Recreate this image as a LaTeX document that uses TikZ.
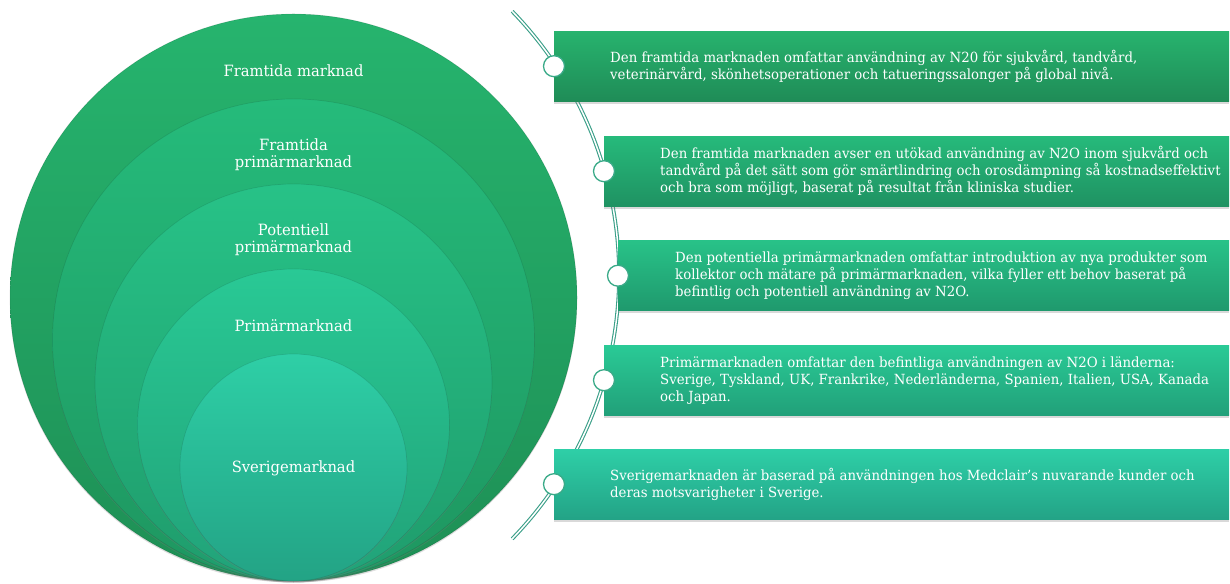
\documentclass[tikz,border=0pt]{standalone}
\usepackage{fontspec}
\setmainfont{DejaVu Serif}
\newfontfamily\boxfont[FakeStretch=0.95]{DejaVu Serif}
\newfontfamily\ringfont[FakeStretch=0.95]{DejaVu Serif}
\usetikzlibrary{shadows}
\definecolor{cAt}{HTML}{26B46E}\definecolor{cAb}{HTML}{1E8F55}
\definecolor{cBt}{HTML}{25BB7B}\definecolor{cBb}{HTML}{1E9660}
\definecolor{cCt}{HTML}{27C287}\definecolor{cCb}{HTML}{1F9C6C}
\definecolor{cDt}{HTML}{29C995}\definecolor{cDb}{HTML}{21A278}
\definecolor{cEt}{HTML}{2ECFA6}\definecolor{cEb}{HTML}{23A385}
\definecolor{bAt}{HTML}{27B36E}\definecolor{bAb}{HTML}{1F8C57}
\definecolor{bBt}{HTML}{26BA7B}\definecolor{bBb}{HTML}{1F9262}
\definecolor{bCt}{HTML}{28C288}\definecolor{bCb}{HTML}{1F996D}
\definecolor{bDt}{HTML}{2ACA96}\definecolor{bDb}{HTML}{21A079}
\definecolor{bEt}{HTML}{2ECFA7}\definecolor{bEb}{HTML}{23A386}
\definecolor{markerc}{HTML}{3AAA88}
\definecolor{arcc}{HTML}{3A9F88}
\begin{document}
\begin{tikzpicture}[x=1pt,y=1pt,
  ring/.style={circle, inner sep=0pt, minimum size=#1, draw=black, draw opacity=0.10, line width=0.7pt,
     drop shadow={shadow xshift=0pt, shadow yshift=-1.5pt, opacity=0.25}},
  ringlabel/.style={text=white, font=\ringfont\fontsize{15.5}{17}\selectfont, align=center, inner sep=0pt},
  infobox/.style={rectangle, inner sep=0pt, anchor=north west, minimum height=70pt, minimum width=#1,
     drop shadow={shadow xshift=0pt, shadow yshift=-2.5pt, opacity=0.3}},
  infotext/.style={anchor=west, text=white, align=left, font=\boxfont\fontsize{14}{17}\selectfont, inner sep=0pt},
  marker/.style={circle, fill=white, draw=markerc, line width=1.3pt, minimum size=21pt, inner sep=0pt},
  arcline/.style={draw=arcc, line width=1.1pt, double=white, double distance=1.5pt}
]
\useasboundingbox (0,0) rectangle (1230,583);

% arc behind the boxes
\coordinate (arcTop) at (512.2,571.7);
\draw[arcline] (arcTop) arc[start angle=44.1, end angle=-44.1, radius=379pt];

% nested circles
\node[ring=567pt, top color=cAt, bottom color=cAb] (c1) at (293.5,285.5) {};
\node[ring=482pt, top color=cBt, bottom color=cBb] (c2) at (293.5,243) {};
\node[ring=397pt, top color=cCt, bottom color=cCb] (c3) at (293.5,200.5) {};
\node[ring=312pt, top color=cDt, bottom color=cDb] (c4) at (293.5,158) {};
\node[ring=227pt, top color=cEt, bottom color=cEb] (c5) at (293.5,115.5) {};

\node[ringlabel] (l1) at (293.5,512.5) {Framtida marknad};
\node[ringlabel] (l2) at (293.5,428) {Framtida\\primärmarknad};
\node[ringlabel] (l3) at (293.5,343.5) {Potentiell\\primärmarknad};
\node[ringlabel] (l4) at (293.5,257) {Primärmarknad};
\node[ringlabel] (l5) at (293.5,115) {Sverigemarknad};

% boxes
\node[infobox=675pt, top color=bAt, bottom color=bAb] (b1) at (554,552) {};
\node[infobox=625pt, top color=bBt, bottom color=bBb] (b2) at (604,447) {};
\node[infobox=611pt, top color=bCt, bottom color=bCb] (b3) at (618,342.5) {};
\node[infobox=625pt, top color=bDt, bottom color=bDb] (b4) at (604,238) {};
\node[infobox=675pt, top color=bEt, bottom color=bEb] (b5) at (554,134) {};

% markers
\node[marker] (m1) at (b1.west) {};
\node[marker] (m2) at (b2.west) {};
\node[marker] (m3) at (b3.west) {};
\node[marker] (m4) at (b4.west) {};
\node[marker] (m5) at (b5.west) {};

% texts
\node[infotext] (t1) at ([xshift=56pt]b1.west) {Den framtida marknaden omfattar användning av N20 för sjukvård, tandvård,\\veterinärvård, skönhetsoperationer och tatueringssalonger på global nivå.};
\node[infotext] (t2) at ([xshift=56pt]b2.west) {Den framtida marknaden avser en utökad användning av N2O inom sjukvård och\\tandvård på det sätt som gör smärtlindring och orosdämpning så kostnadseffektivt\\och bra som möjligt, baserat på resultat från kliniska studier.};
\node[infotext] (t3) at ([xshift=57pt]b3.west) {Den potentiella primärmarknaden omfattar introduktion av nya produkter som\\kollektor och mätare på primärmarknaden, vilka fyller ett behov baserat på\\befintlig och potentiell användning av N2O.};
\node[infotext] (t4) at ([xshift=56pt]b4.west) {Primärmarknaden omfattar den befintliga användningen av N2O i länderna:\\Sverige, Tyskland, UK, Frankrike, Nederländerna, Spanien, Italien, USA, Kanada\\och Japan.};
\node[infotext] (t5) at ([xshift=56pt]b5.west) {Sverigemarknaden är baserad på användningen hos Medclair’s nuvarande kunder och\\deras motsvarigheter i Sverige.};
\end{tikzpicture}
\end{document}
